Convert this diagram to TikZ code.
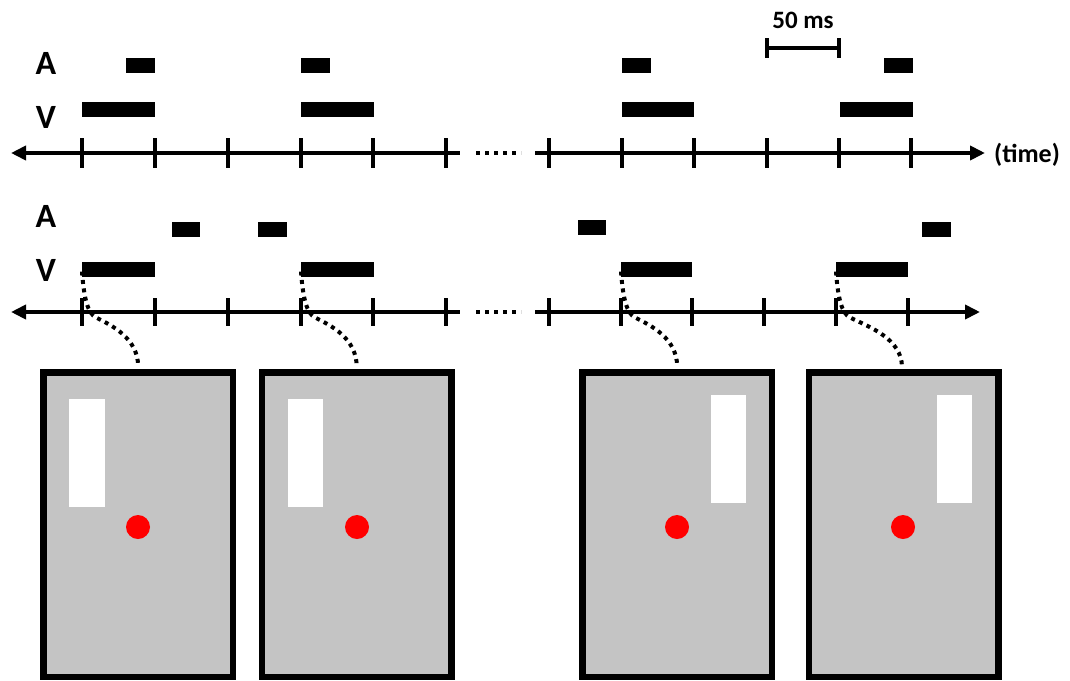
\documentclass[tikz,border=0pt]{standalone}
\usepackage{fontspec}
\setmainfont{Carlito}
\usetikzlibrary{arrows.meta}
\definecolor{screengray}{HTML}{C4C4C4}
\begin{document}
\begin{tikzpicture}[x=1pt,y=-1pt,
  axis/.style={line width=4pt},
  tip/.style={-{Triangle[length=15pt,width=14pt]}},
  tick/.style={line width=4pt},
  gapdots/.style={line width=4pt,dash pattern=on 4pt off 5pt},
  bar/.style={rectangle,fill=black,inner sep=0pt,outer sep=0pt,minimum height=15pt},
  lbl/.style={font=\fontsize{34}{40}\selectfont\bfseries,inner sep=0pt},
  screen/.style={rectangle,draw=black,line width=6.5pt,fill=screengray,inner sep=0pt,outer sep=3.25pt,minimum width=189.5pt,minimum height=304.5pt},
  slit/.style={rectangle,fill=white,inner sep=0pt,minimum width=35.5pt,minimum height=108pt},
  fix/.style={circle,fill=red,inner sep=0pt,minimum size=24pt},
  link/.style={line width=4pt,dash pattern=on 4pt off 4.5pt}
]
\useasboundingbox (0,0) rectangle (1070,680);

% ---------- top timeline ----------
\node[lbl] (tA) at (46,63) {A};
\node[lbl] (tV) at (46,117.5) {V};
\coordinate (tl0) at (11,153);
\coordinate (tl1) at (460,153);
\coordinate (tr0) at (535,153);
\coordinate (tr1) at (985,153);
\draw[axis,{Triangle[length=15pt,width=14pt]}-] (tl0) -- (tl1);
\draw[axis,tip] (tr0) -- (tr1);
\coordinate (td0) at (476,153);
\coordinate (td1) at (521,153);
\draw[gapdots] (td0) -- (td1);
\foreach \x in {82,155,228,301,373,446,549,622,694,767,839,911}
  \draw[tick] (\x,138) -- (\x,168);
\node[font=\fontsize{26}{30}\selectfont\bfseries,anchor=west,inner sep=0pt] (time) at (994,155) {(time)};

% top bars
\node[bar,minimum width=29pt] (ta1) at (140.5,65.5) {};
\node[bar,minimum width=29pt] (ta2) at (315.5,65.5) {};
\node[bar,minimum width=29pt] (ta3) at (636.5,65.5) {};
\node[bar,minimum width=29pt] (ta4) at (898.5,65.5) {};
\node[bar,minimum width=73pt] (tv1) at (118.5,109.5) {};
\node[bar,minimum width=73pt] (tv2) at (337.5,109.5) {};
\node[bar,minimum width=72pt] (tv3) at (658,109.5) {};
\node[bar,minimum width=73pt] (tv4) at (876.5,109.5) {};

% scale bar
\coordinate (s0) at (767,48);
\coordinate (s1) at (839,48);
\draw[tick] (s0) -- (s1);
\draw[tick] (767,38) -- (767,58);
\draw[tick] (839,38) -- (839,58);
\node[font=\fontsize{25}{29}\selectfont\bfseries,inner sep=0pt] (scale) at (803,20) {50 ms};

% ---------- bottom timeline ----------
\node[lbl] (bA) at (46,216) {A};
\node[lbl] (bV) at (46,270) {V};
\coordinate (bl0) at (11,312);
\coordinate (bl1) at (460,312);
\coordinate (br0) at (535,312);
\coordinate (br1) at (980,312);
\draw[axis,{Triangle[length=15pt,width=14pt]}-] (bl0) -- (bl1);
\draw[axis,tip] (br0) -- (br1);
\coordinate (bd0) at (476,312);
\coordinate (bd1) at (521,312);
\draw[gapdots] (bd0) -- (bd1);
\foreach \x in {82,155,228,301,373,446,549,621,692,764,836,908}
  \draw[tick] (\x,298) -- (\x,326);

% bottom bars
\node[bar,minimum width=28pt] (ba1) at (186,229.5) {};
\node[bar,minimum width=29pt] (ba2) at (272.5,229.5) {};
\node[bar,minimum width=28pt] (ba3) at (592,227.5) {};
\node[bar,minimum width=29pt] (ba4) at (936.5,229.5) {};
\node[bar,minimum width=73pt] (bv1) at (118.5,269.5) {};
\node[bar,minimum width=73pt] (bv2) at (337.5,269.5) {};
\node[bar,minimum width=71pt] (bv3) at (656.5,269.5) {};
\node[bar,minimum width=72pt] (bv4) at (872,269.5) {};

% ---------- screens ----------
\node[screen] (s1b) at (138.25,524.75) {};
\node[screen] (s2b) at (356.75,524.75) {};
\node[screen] (s3b) at (677.25,524.75) {};
\node[screen] (s4b) at (903.5,524.75) {};

\node[slit] (w1) at (87,453) {};
\node[slit] (w2) at (305.5,453) {};
\node[slit] (w3) at (728.5,448.5) {};
\node[slit] (w4) at (954.5,448.5) {};

\node[fix] (f1) at (138,527) {};
\node[fix] (f2) at (357,527) {};
\node[fix] (f3) at (677,527) {};
\node[fix] (f4) at (903,527) {};

% dotted links
\draw[link] ([yshift=-2pt]bv1.west) .. controls +(2,28) and +(-8,-4) .. +(14,46)
  .. controls +(16,8) and +(0,-29) .. ([yshift=2pt]s1b.north);
\draw[link] ([yshift=-2pt]bv2.west) .. controls +(2,28) and +(-8,-4) .. +(14,46)
  .. controls +(16,8) and +(0,-29) .. ([yshift=2pt]s2b.north);
\draw[link] ([yshift=-2pt]bv3.west) .. controls +(2,28) and +(-8,-4) .. +(14,46)
  .. controls +(16,8) and +(0,-29) .. ([yshift=2pt]s3b.north);
\draw[link] ([yshift=-2pt]bv4.west) .. controls +(2,28) and +(-8,-4) .. +(14,46)
  .. controls +(18,9) and +(0,-29) .. ([xshift=-1.5pt,yshift=2pt]s4b.north);
\end{tikzpicture}
\end{document}
